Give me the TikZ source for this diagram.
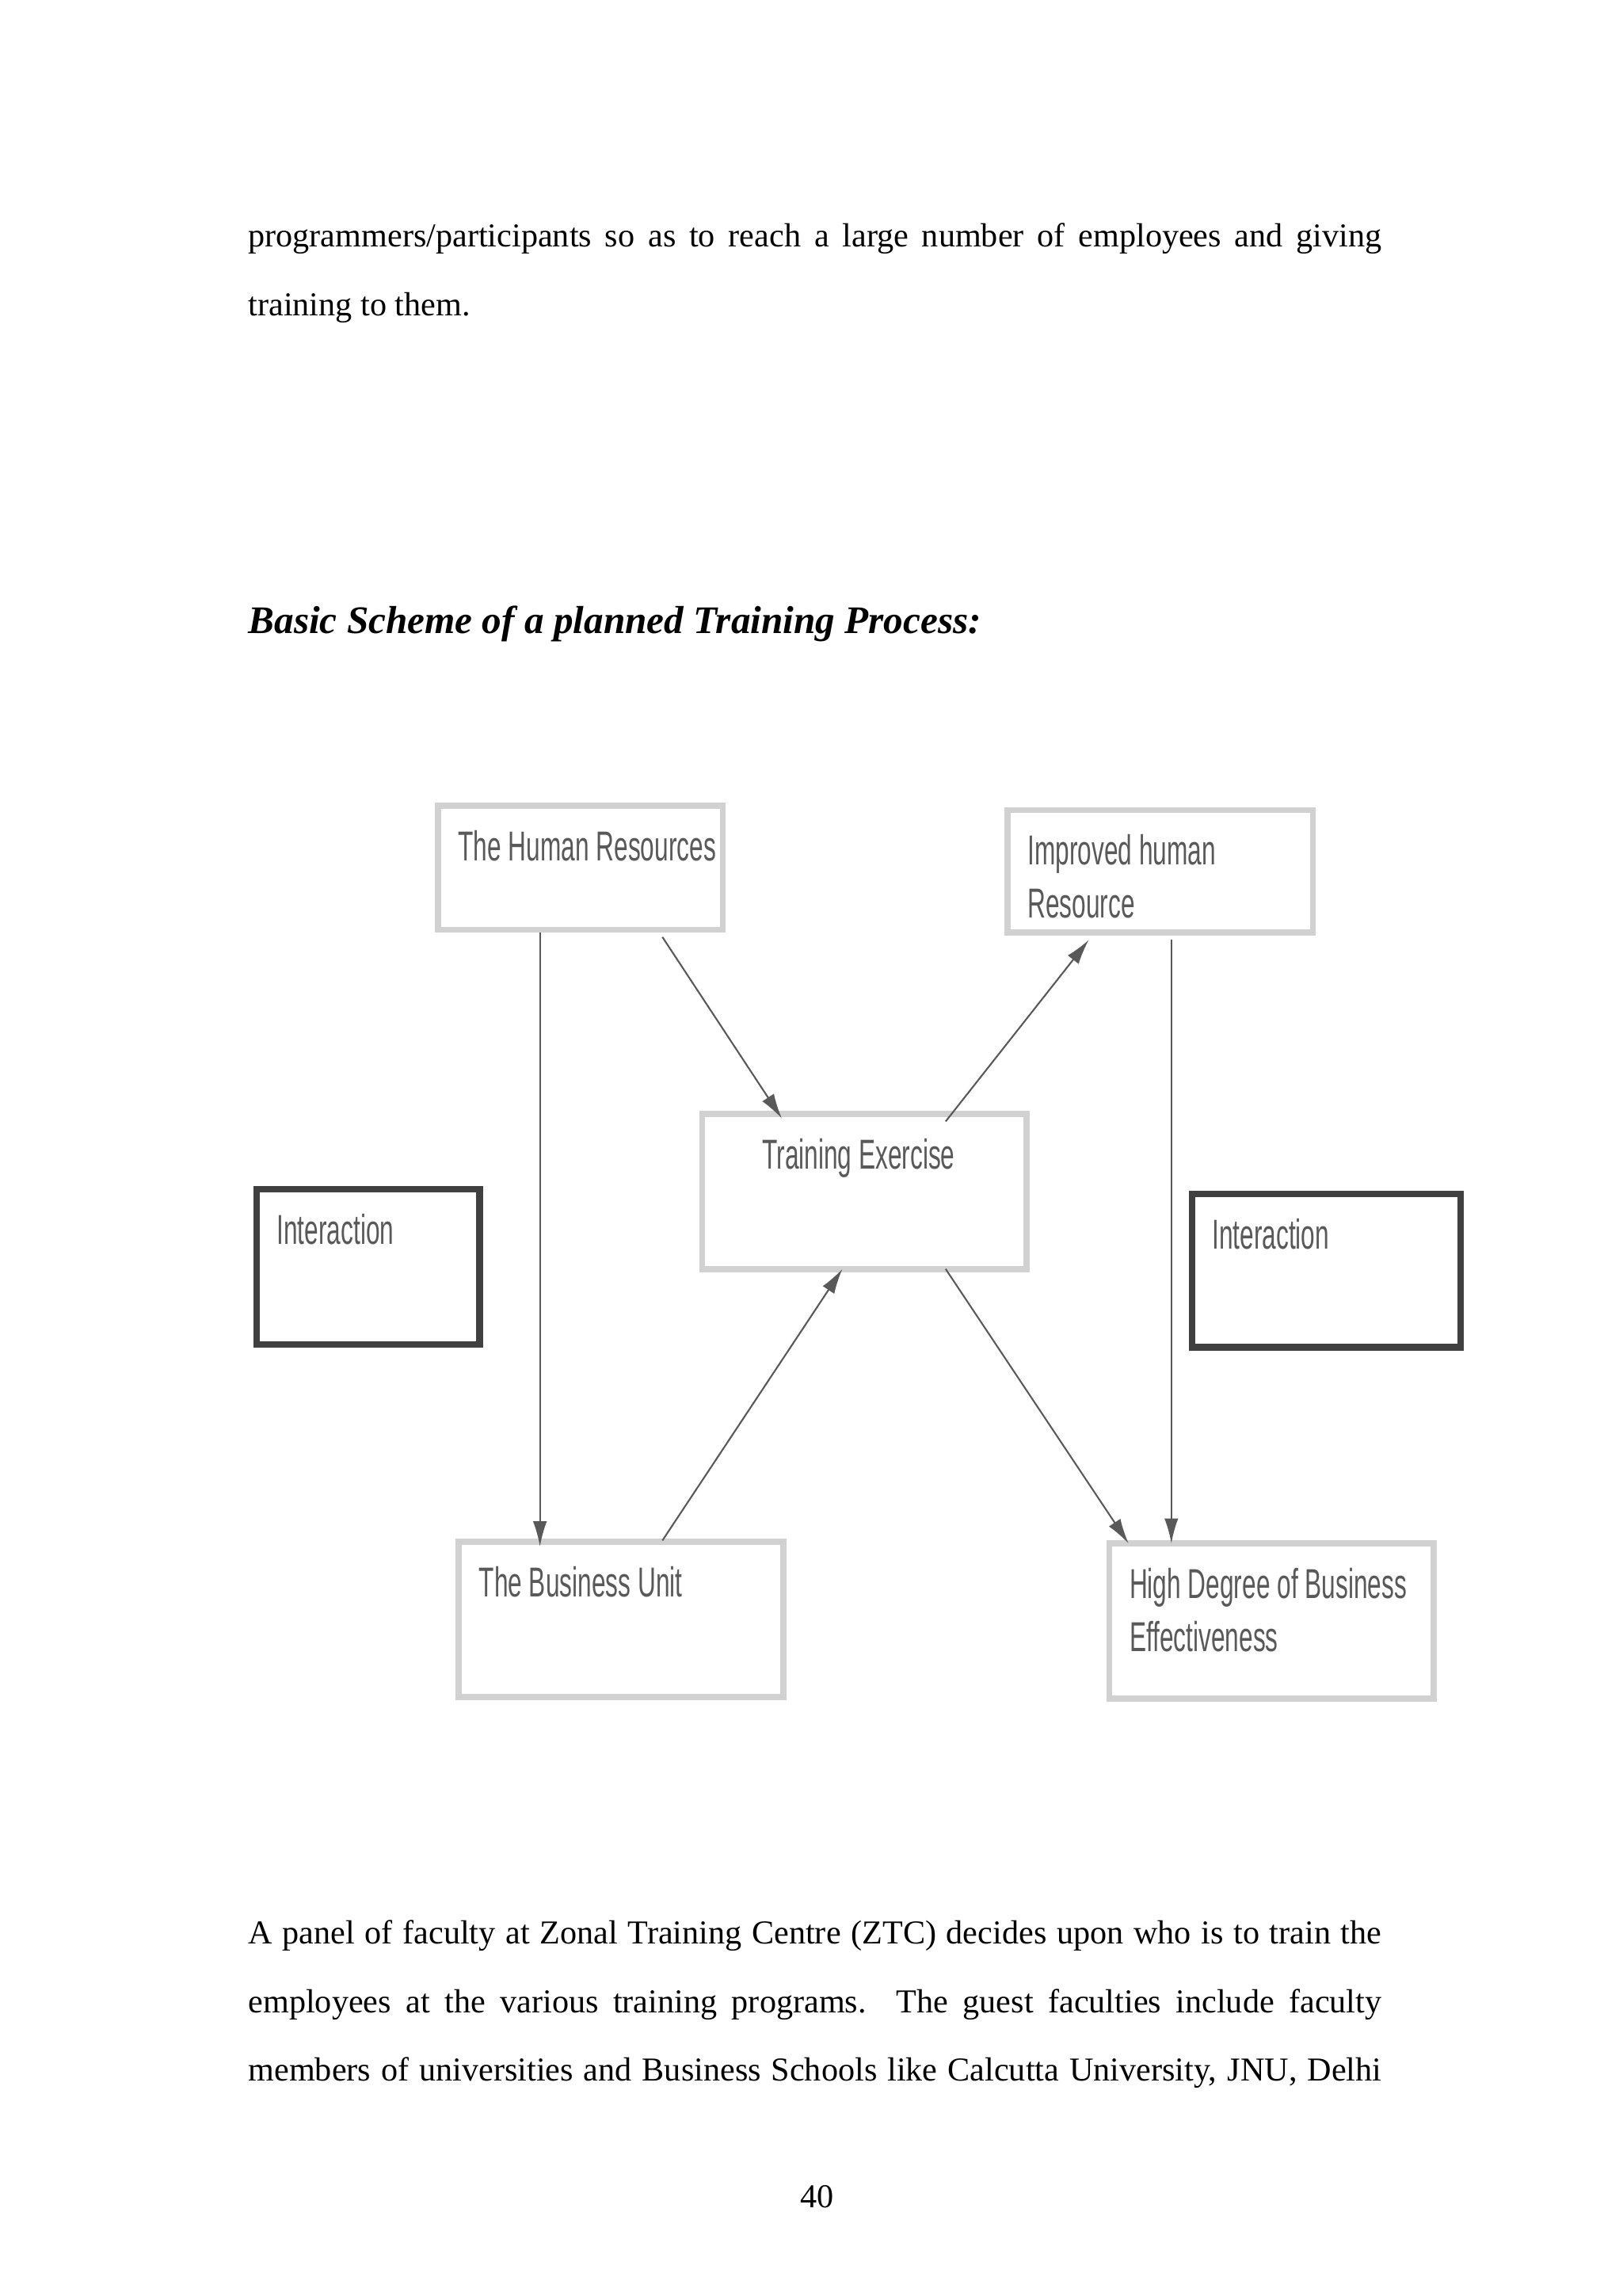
\documentclass[tikz,border=0pt]{standalone}
\usepackage{fontspec}
\setmainfont{Liberation Serif}
\newfontfamily\narrow{Liberation Sans}[FakeStretch=0.6]
\usetikzlibrary{arrows.meta,calc}
\begin{document}
\begin{tikzpicture}[x=0.018618cm,y=-0.018618cm,
 box/.style={draw=black!18,line width=2.2pt,fill=white},
 dbox/.style={draw=black!75,line width=2.4pt},
 lbl/.style={font=\narrow\fontsize{15}{19}\selectfont,text=black!65,align=left,anchor=north west},
 arr/.style={draw=black!65,line width=0.6pt,-{Latex[length=9pt,width=5pt]}},
 body/.style={anchor=north west,inner sep=0pt,text width=14.3cm,align=justify,font=\fontsize{12}{24.6}\selectfont}]
\useasboundingbox (0,0) rectangle (1100,1556);
\node[body] (p1) at (168,151) {programmers/participants so as to reach a large number of employees and giving\linebreak training to them.};
\node[anchor=base west,inner sep=0pt,font=\fontsize{14}{18}\selectfont\bfseries\itshape] (h) at (168,429) {Basic Scheme of a planned Training Process:};
% boxes
\draw[box] (297,546) rectangle (490,630);
\node[lbl] (hr) at (304,556) {The Human Resources};
\draw[box] (683,549) rectangle (890,632);
\node[lbl] (ih) at (690,559) {Improved human\\Resource};
\draw[box] (476,755) rectangle (696,860);
\node[lbl,anchor=north] (te) at (582,765) {Training Exercise};
\draw[dbox] (174,806) rectangle (325,911);
\node[lbl] (i1) at (181,816) {Interaction};
\draw[dbox] (808,809) rectangle (990,913);
\node[lbl] (i2) at (815,819) {Interaction};
\draw[box] (311,1045) rectangle (531,1150);
\node[lbl] (bu) at (318,1055) {The Business Unit};
\draw[box] (752,1046) rectangle (972,1151);
\node[lbl] (hd) at (759,1056) {High Degree of Business\\Effectiveness};
% connector ends
\coordinate (a1) at (366,632); \coordinate (a2) at (366,1048);
\coordinate (b1) at (449,635); \coordinate (b2) at (530,758);
\coordinate (c1) at (641,760); \coordinate (c2) at (738,637);
\coordinate (d1) at (449,1044); \coordinate (d2) at (571,860);
\coordinate (e1) at (641,860); \coordinate (e2) at (765,1046);
\coordinate (f1) at (794,637); \coordinate (f2) at (794,1046);
\draw[arr] (a1) -- (a2);
\draw[arr] (b1) -- (b2);
\draw[arr] (c1) -- (c2);
\draw[arr] (d1) -- (d2);
\draw[arr] (e1) -- (e2);
\draw[arr] (f1) -- (f2);
\node[body] (p2) at (168,1301) {A panel of faculty at Zonal Training Centre (ZTC) decides upon who is to train the\linebreak employees at the various training programs. The guest faculties include faculty\linebreak \makebox[\linewidth][s]{members of universities and Business Schools like Calcutta University, JNU, Delhi}};
\node[anchor=base,inner sep=0pt,font=\fontsize{12}{14}\selectfont] (pn) at (554,1496) {40};
\end{tikzpicture}
\end{document}
